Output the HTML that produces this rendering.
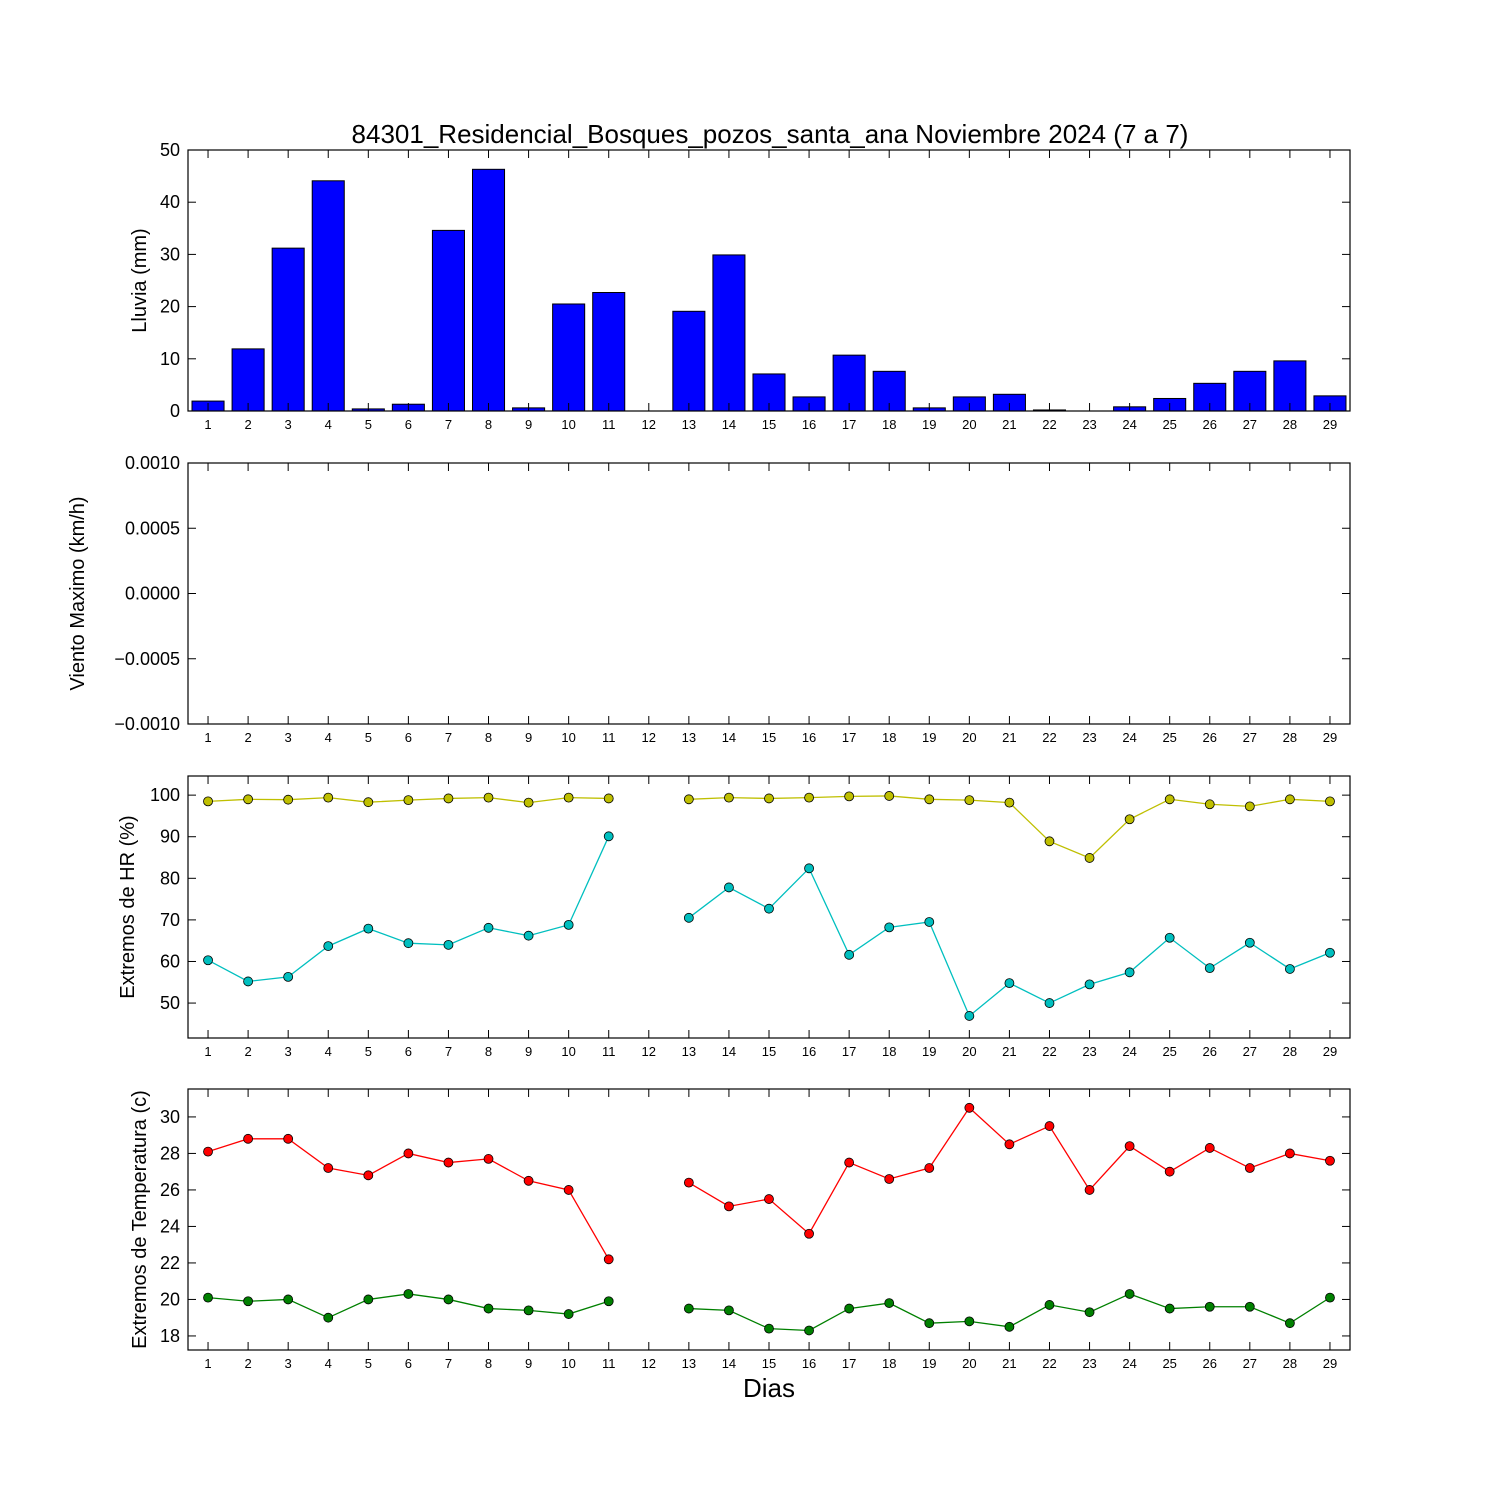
<!DOCTYPE html>
<html><head><meta charset="utf-8"><style>
html,body{margin:0;padding:0;background:#fff;}
svg{display:block;font-family:"Liberation Sans","DejaVu Sans",sans-serif;}
</style></head><body>
<svg id="chart" width="1500" height="1500" viewBox="0 0 1500 1500" xmlns="http://www.w3.org/2000/svg">
<rect width="1500" height="1500" fill="#fff"/>
<text x="770" y="143" font-size="26" text-anchor="middle">84301_Residencial_Bosques_pozos_santa_ana Noviembre 2024  (7 a 7)</text>
<text x="769" y="1397" font-size="26" text-anchor="middle">Dias</text>
</svg>
<script>
const days = [1,2,3,4,5,6,7,8,9,10,11,12,13,14,15,16,17,18,19,20,21,22,23,24,25,26,27,28,29];
const rain = [1.9,11.9,31.2,44.1,0.4,1.3,34.6,46.3,0.6,20.5,22.7,0,19.1,29.9,7.1,2.7,10.7,7.6,0.6,2.7,3.2,0.2,0,0.8,2.4,5.3,7.6,9.6,2.9];
const hrMax = [98.5,99,98.9,99.4,98.3,98.8,99.2,99.4,98.2,99.4,99.2,null,99,99.4,99.2,99.4,99.7,99.8,99,98.8,98.2,88.9,84.9,94.2,99,97.8,97.3,99,98.5];
const hrMin = [60.3,55.2,56.3,63.7,67.9,64.4,64,68.1,66.2,68.8,90.1,null,70.5,77.8,72.7,82.4,61.6,68.2,69.5,46.9,54.8,50,54.5,57.4,65.7,58.4,64.5,58.2,62.1];
const tMax = [28.1,28.8,28.8,27.2,26.8,28,27.5,27.7,26.5,26,22.2,null,26.4,25.1,25.5,23.6,27.5,26.6,27.2,30.5,28.5,29.5,26,28.4,27,28.3,27.2,28,27.6];
const tMin = [20.1,19.9,20,19,20,20.3,20,19.5,19.4,19.2,19.9,null,19.5,19.4,18.4,18.3,19.5,19.8,18.7,18.8,18.5,19.7,19.3,20.3,19.5,19.6,19.6,18.7,20.1];
const rainTicks = [0,10,20,30,40,50];
const windTicks = ["0.0010","0.0005","0.0000","\u22120.0005","\u22120.0010"];
const hrTicks = [50,60,70,80,90,100];
const tTicks = [18,20,22,24,26,28,30];

const NS="http://www.w3.org/2000/svg";
const svg=document.getElementById('chart');
const X0=188,X1=1350;
function xs(d){return X0+(d-0.5)/29*(X1-X0);}
function mk(tag,attrs,parent){const e=document.createElementNS(NS,tag);for(const k in attrs)e.setAttribute(k,attrs[k]);(parent||svg).appendChild(e);return e;}

function panel(name,top,bot,ymin,ymax,ticks,tickLabels,ylabel,lx){
  const g=mk('g',{});
  
  
  const ys=v=>bot-(v-ymin)/(ymax-ymin)*(bot-top);
  return {g,ys,top,bot,ticks,tickLabels,ylabel,lx,name};
}
function frame(p){
  const {g,ys,top,bot}=p;
  const r=mk('rect',{x:X0,y:top,width:X1-X0,height:bot-top,fill:'none',stroke:'#000','stroke-width':1.2},g);
  
  
  p.ticks.forEach((v,i)=>{
    const y=ys(v);
    mk('line',{x1:X0,y1:y,x2:X0+8,y2:y,stroke:'#000'},g);
    mk('line',{x1:X1,y1:y,x2:X1-8,y2:y,stroke:'#000'},g);
    const t=mk('text',{x:X0-8,y:y+6,'font-size':18,'text-anchor':'end'},g);
    
    
    t.textContent=p.tickLabels[i];
  });
  days.forEach(d=>{
    const x=xs(d);
    mk('line',{x1:x,y1:bot,x2:x,y2:bot-8,stroke:'#000'},g);
    mk('line',{x1:x,y1:top,x2:x,y2:top+8,stroke:'#000'},g);
    const t=mk('text',{x:x,y:bot+18,'font-size':13,'text-anchor':'middle'},g);
    
    
    t.textContent=d;
  });
  const cy=(top+bot)/2;
  const yl=mk('text',{x:p.lx,y:cy,'font-size':20,'text-anchor':'middle',transform:`rotate(-90 ${p.lx} ${cy})`},g);
  
  
  yl.textContent=p.ylabel;
}
function series(p,vals,color,nm){
  const {g,ys}=p;
  let seg=[];const segs=[];
  vals.forEach((v,i)=>{ if(v===null){if(seg.length)segs.push(seg);seg=[];} else seg.push([xs(days[i]),ys(v)]); });
  if(seg.length)segs.push(seg);
  segs.forEach(s=>{
    const l=mk('polyline',{points:s.map(q=>q.join(',')).join(' '),fill:'none',stroke:color,'stroke-width':1.3},g);
    
    
  });
  vals.forEach((v,i)=>{ if(v===null)return;
    const c=mk('circle',{cx:xs(days[i]),cy:ys(v),r:4.5,fill:color,stroke:'#000','stroke-width':0.8},g);
    
    
  });
}

// Rain
const p1=panel('rain',150,411,0,50,rainTicks,rainTicks.map(String),'Lluvia (mm)',146);
rain.forEach((v,i)=>{
  const x=xs(days[i]), w=0.8/29*(X1-X0);
  const b=mk('rect',{x:x-w/2,y:p1.ys(v),width:w,height:p1.ys(0)-p1.ys(v),fill:'#0000ff',stroke:'#000','stroke-width':1},p1.g);
  
  
});
frame(p1);

// Wind
const p2=panel('wind',463,724,-0.001,0.001,[0.001,0.0005,0,-0.0005,-0.001],windTicks,'Viento Maximo (km/h)',84);
frame(p2);

// HR
const p3=panel('humidity',776,1038,41.6,104.6,hrTicks,hrTicks.map(String),'Extremos de HR (%)',134);
series(p3,hrMax,'#bfbf00','hr-max');
series(p3,hrMin,'#00bfbf','hr-min');
frame(p3);

// Temp
const p4=panel('temperature',1089,1350,17.23,31.53,tTicks,tTicks.map(String),'Extremos de Temperatura (c)',146);
series(p4,tMax,'#ff0000','temp-max');
series(p4,tMin,'#008000','temp-min');
frame(p4);
</script>
</body></html>
